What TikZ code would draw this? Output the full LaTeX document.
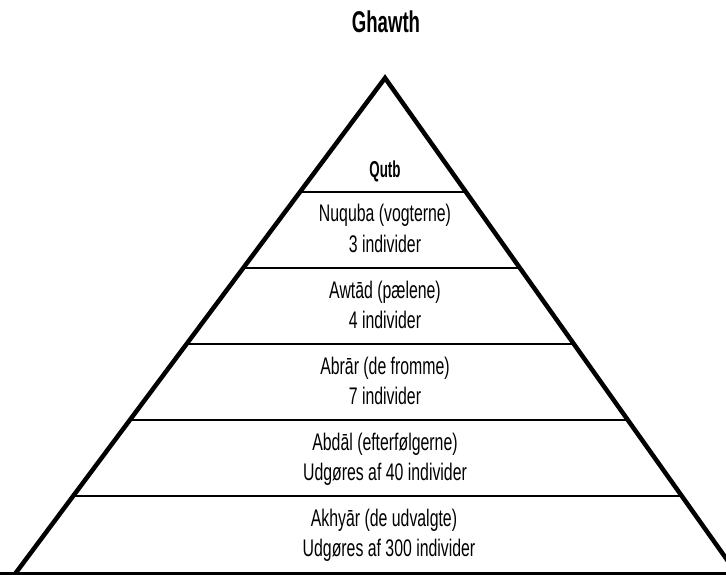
\documentclass[tikz,border=0pt]{standalone}
\usepackage{fontspec}
\setmainfont{Liberation Sans}[FakeStretch=0.66]
\newfontfamily\ghfont{Liberation Sans}[FakeStretch=0.62]
\newfontfamily\qfont{Liberation Sans}[FakeStretch=0.58]
\usetikzlibrary{calc}
\begin{document}
\begin{tikzpicture}[x=1pt,y=-1pt,
  side/.style={line width=4.5pt,line join=miter,line cap=butt},
  sep/.style={line width=1.2pt},
  base/.style={line width=2.5pt},
  rowtxt/.style={font=\fontsize{24}{28}\selectfont,anchor=base,inner sep=0pt},
  titletxt/.style={font=\ghfont\bfseries\fontsize{30}{34}\selectfont,anchor=base,inner sep=0pt},
  qtxt/.style={font=\qfont\bfseries\fontsize{23}{27}\selectfont,anchor=base,inner sep=0pt}]
\useasboundingbox (0,0) rectangle (726,575);
\begin{scope}
\clip (0,0) rectangle (726,575);
\coordinate (A) at (385,78);
\coordinate (L) at (12,578);
\coordinate (R) at (740,578);
\draw[side] (L) -- (A) -- (R);
\draw[base] (0,573.5) -- (726,573.5);
\foreach \yy [count=\i] in {192,268,344,420,496}{
  \pgfmathsetmacro{\t}{(\yy-78)/500}
  \coordinate (l\i) at ($(A)!\t!(L)$);
  \coordinate (r\i) at ($(A)!\t!(R)$);
  \draw[sep] (l\i) -- (r\i);
}
\end{scope}
\node[titletxt] (ghawth) at (386,33) {Ghawth};
\node[qtxt] (qutb) at (385,178) {Qutb};
\node[rowtxt] (n1) at (385,222) {Nuquba (vogterne)};
\node[rowtxt] (n2) at (385,252) {3 individer};
\node[rowtxt] (a1) at (385,298) {Awtād (pælene)};
\node[rowtxt] (a2) at (385,328) {4 individer};
\node[rowtxt] (b1) at (385,374) {Abrār (de fromme)};
\node[rowtxt] (b2) at (385,404) {7 individer};
\node[rowtxt] (c1) at (385,450) {Abdāl (efterfølgerne)};
\node[rowtxt] (c2) at (385,480) {Udgøres af 40 individer};
\node[rowtxt] (d1) at (384,526) {Akhyār (de udvalgte)};
\node[rowtxt] (d2) at (389,556) {Udgøres af 300 individer};
\end{tikzpicture}
\end{document}
